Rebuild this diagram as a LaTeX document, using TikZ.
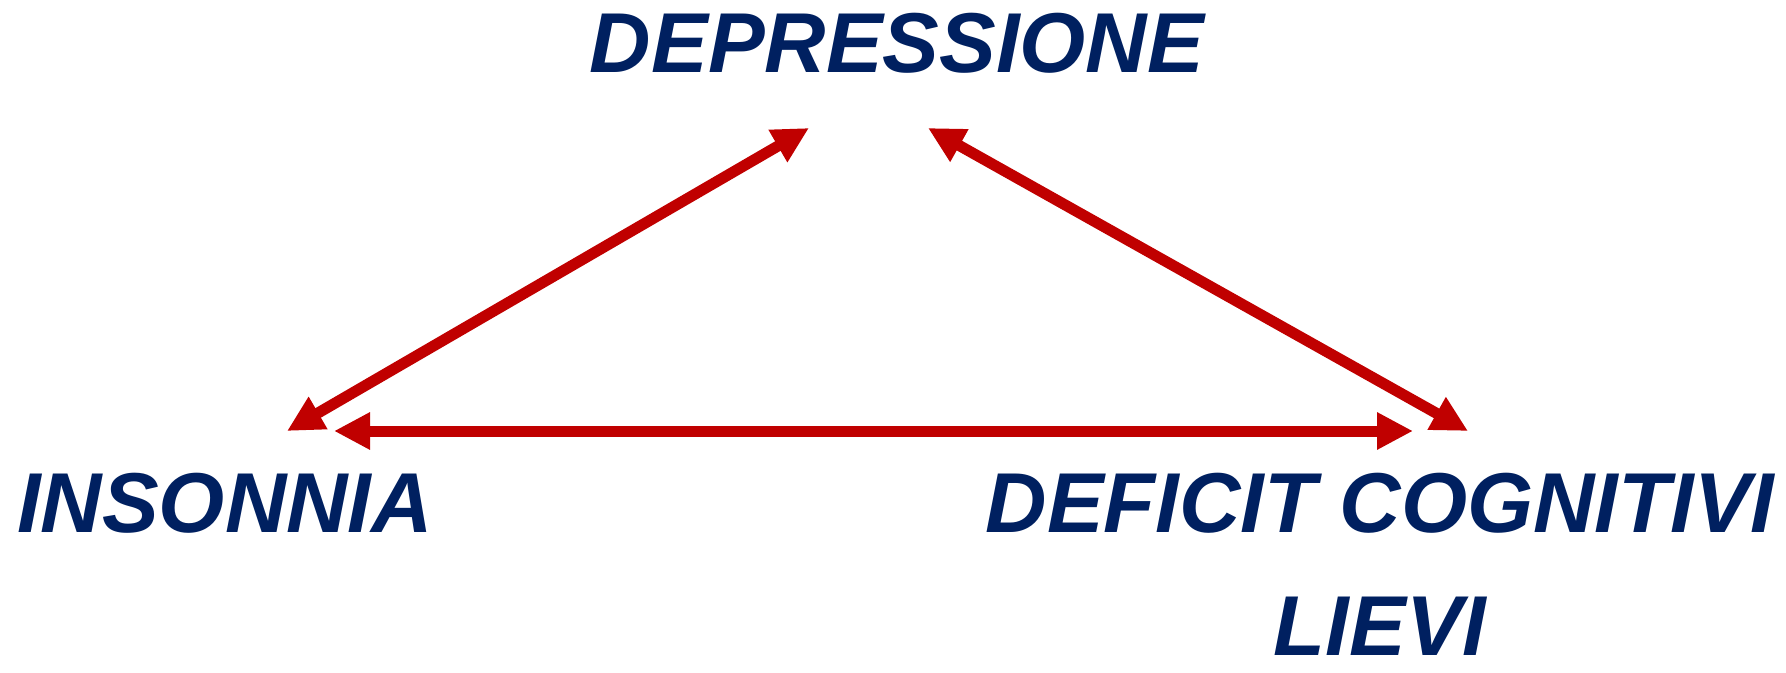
\documentclass[tikz,border=0pt]{standalone}
\usepackage{fontspec}
\setmainfont{Liberation Sans}
\usetikzlibrary{arrows.meta}
\definecolor{navy}{RGB}{0,32,96}
\definecolor{arrowred}{RGB}{192,0,0}

\begin{document}
\begin{tikzpicture}[x=0.5pt, y=-0.5pt,
    concept/.style={text=navy, inner sep=0pt, anchor=base, align=center,
        font=\fontsize{42.5}{61.5}\selectfont\bfseries\itshape},
    link/.style={arrowred, line width=5.5pt,
        {Triangle[length=18pt,width=17.5pt]}-{Triangle[length=18pt,width=17.5pt]}}]
    \useasboundingbox (0,0) rectangle (1786,673);

    % Concepts (base of a two-line node is its last line)
    \node[concept] (dep) at (897,73) {DEPRESSIONE};
    \node[concept] (ins) at (225,532) {INSONNIA};
    \node[concept] (cog) at (1380,655) {DEFICIT COGNITIVI\\LIEVI};

    % Arrow ends
    \coordinate (dep-l) at (809,128);
    \coordinate (dep-r) at (928,128);
    \coordinate (ins-t) at (287,431);
    \coordinate (ins-r) at (334,431);
    \coordinate (cog-t) at (1468,431);
    \coordinate (cog-l) at (1413,431);

    % Links
    \draw[link] (ins-t) -- (dep-l);
    \draw[link] (dep-r) -- (cog-t);
    \draw[link] (ins-r) -- (cog-l);

\end{tikzpicture}
\end{document}
